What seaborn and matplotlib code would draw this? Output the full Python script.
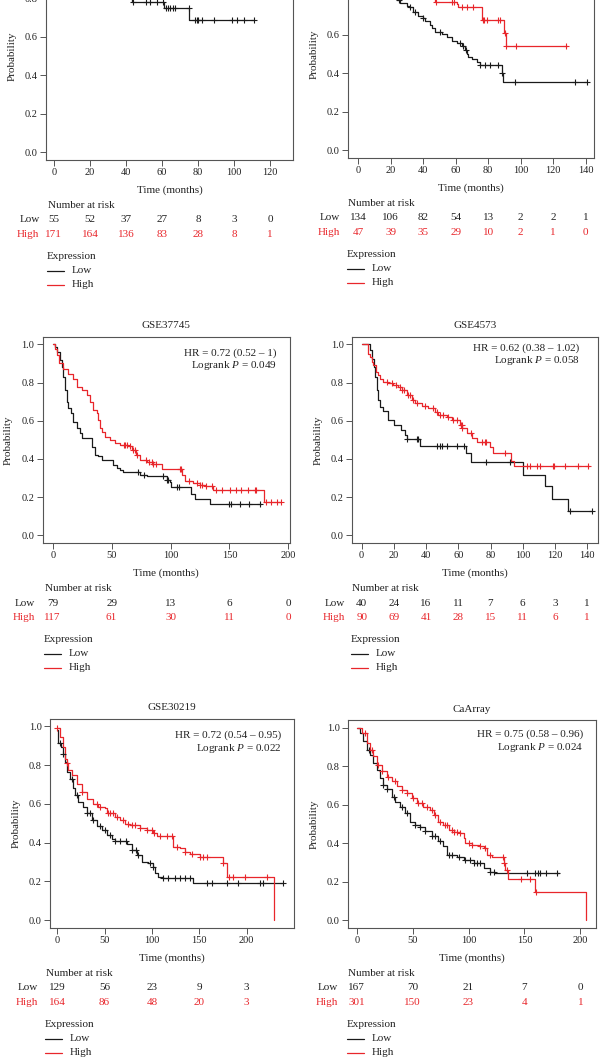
import matplotlib
matplotlib.use('Agg')

import numpy as np
import matplotlib.pyplot as plt
import matplotlib.transforms as mtransforms
import seaborn as sns

# -------------------------------
# Kaplan-Meier curves (time in months, survival)
# -------------------------------
# panel 1 (top-left, title cropped)
p1_low_t = [0, 5, 12, 20, 28, 35, 40, 43.5, 61.3, 75.2, 111.1]
p1_low_s = [1.0, 0.98, 0.96, 0.94, 0.91, 0.87, 0.82, 0.78, 0.75, 0.686, 0.686]
p1_low_c = [43.7, 50.9, 53.3, 57.4, 60.4, 62.0, 63.1, 64.4, 66.3, 67.2, 75.0, 78.5, 79.3,
            80.2, 82.2, 88.7, 98.7, 101.5, 105.7, 111.1]
p1_high_t = [0, 10, 25, 45, 60, 75, 90, 128]
p1_high_s = [1.0, 0.98, 0.96, 0.94, 0.92, 0.90, 0.88, 0.88]
p1_high_c = [30, 50, 70, 95, 110, 128]
p1_times = [0, 20, 40, 60, 80, 100, 120]
p1_risk_low = [55, 52, 37, 27, 8, 3, 0]
p1_risk_high = [171, 164, 136, 83, 28, 8, 1]

# panel 2 (top-right, title cropped)
p2_low_t = [0, 6, 12, 17, 20, 22, 24, 25.7, 29.8, 31.5, 33.9, 37, 39.6, 41, 44, 45.5, 47.2,
            51.3, 54.4, 57.5, 60.6, 63.7, 65.7, 66.8, 67.8, 69.8, 72.9, 75, 88.3, 89.2, 141]
p2_low_s = [1.0, 0.98, 0.95, 0.91, 0.86, 0.82, 0.78, 0.765, 0.75, 0.745, 0.72, 0.70, 0.687,
            0.67, 0.652, 0.635, 0.614, 0.603, 0.59, 0.57, 0.557, 0.54, 0.52, 0.50, 0.487,
            0.473, 0.46, 0.443, 0.40, 0.353, 0.353]
p2_low_c = [25.3, 31.8, 34.9, 40, 50.3, 62.6, 64.7, 66.1, 75.2, 78.2, 81.1, 86.2, 88.5,
            96.5, 133.5, 140.7]
p2_high_t = [0, 15, 30, 42, 47.5, 60.6, 61.6, 76.0, 89.7, 90.8, 128.3]
p2_high_s = [1.0, 0.97, 0.92, 0.86, 0.774, 0.762, 0.744, 0.678, 0.612, 0.543, 0.543]
p2_high_c = [48, 57.5, 58.9, 63.7, 67.1, 70.4, 76.6, 77.6, 79.1, 86.2, 87.3, 90.3, 90.9,
             97.1, 127.7]
p2_times = [0, 20, 40, 60, 80, 100, 120, 140]
p2_risk_low = [134, 106, 82, 54, 13, 2, 2, 1]
p2_risk_high = [47, 39, 35, 29, 10, 2, 1, 0]

# panel 3 GSE37745
p3_low_t = [0, 2, 4, 6.2, 7.6, 9, 10.5, 11.9, 13.3, 15.3, 17.5, 20.3, 23.2, 25.1, 33.6, 35.9,
            38.7, 41.5, 51.4, 54.2, 57, 60, 74, 79.7, 96.6, 99.4, 100.8, 117, 121, 133.7, 177]
p3_low_s = [1.0, 0.986, 0.96, 0.917, 0.882, 0.83, 0.76, 0.70, 0.665, 0.64, 0.595, 0.56,
            0.535, 0.509, 0.465, 0.42, 0.413, 0.396, 0.37, 0.352, 0.34, 0.33, 0.318, 0.309,
            0.292, 0.28, 0.253, 0.215, 0.191, 0.165, 0.165]
p3_low_c = [72.3, 77.4, 93.8, 96.8, 98, 105.9, 107.1, 149.7, 151.4, 158.8, 166.7, 175.7]
p3_high_t = [0, 2, 3.4, 5.6, 9, 13.3, 17.5, 20.3, 24.6, 28.8, 31.6, 34.5, 37.3, 38.7, 40.1,
             41.5, 44.4, 48.6, 52.8, 57, 64.1, 66.9, 70.6, 74, 79.7, 85.3, 92.9, 109.4, 112.1,
             119.2, 124.9, 129.1, 136.2, 179.4, 194]
p3_high_s = [1.0, 0.977, 0.943, 0.90, 0.873, 0.847, 0.82, 0.778, 0.76, 0.734, 0.70, 0.656,
             0.639, 0.604, 0.56, 0.543, 0.517, 0.50, 0.486, 0.474, 0.469, 0.448, 0.422, 0.396,
             0.382, 0.375, 0.347, 0.318, 0.283, 0.274, 0.266, 0.257, 0.236, 0.175, 0.175]
p3_high_c = [60.5, 61.3, 62.7, 65.5, 67.8, 69.8, 71.2, 79.1, 81.9, 83.9, 85.3, 88.1, 107.9,
             108.8, 115.3, 122.6, 124.9, 127.1, 130.5, 135.6, 138.4, 144.1, 150.3, 155.9,
             160.2, 165.8, 171.5, 172.9, 181.4, 185.6, 190.4, 194]
p3_times = [0, 50, 100, 150, 200]
p3_risk_low = [79, 29, 13, 6, 0]
p3_risk_high = [117, 61, 30, 11, 0]

# panel 4 GSE4573
p4_low_t = [0, 5.2, 6.2, 7.7, 8.3, 9.3, 10.3, 11.4, 13, 16.5, 20.3, 24.2, 26.9, 27.9, 36.2,
            64.5, 67.8, 99.9, 113.7, 117.9, 127.8, 142.7]
p4_low_s = [1.0, 0.969, 0.925, 0.882, 0.83, 0.76, 0.708, 0.674, 0.653, 0.604, 0.578, 0.552,
            0.526, 0.503, 0.469, 0.43, 0.382, 0.318, 0.257, 0.191, 0.127, 0.127]
p4_low_c = [28.2, 34.1, 35.2, 46.5, 48.6, 49.6, 52.7, 58.9, 63.5, 77.1, 92, 129.2, 142.7]
p4_high_t = [0, 4.1, 5.2, 6.2, 7.2, 8.9, 10.3, 11.4, 13.4, 16.5, 19.6, 22.7, 24.8, 27.9, 31,
             33.1, 37.2, 41.4, 45.5, 47.6, 52.7, 55.8, 61, 62.4, 65.1, 68.2, 71.3, 79.6, 81.7,
             93, 94.5, 141.2]
p4_high_s = [1.0, 0.951, 0.934, 0.908, 0.891, 0.856, 0.839, 0.821, 0.804, 0.795, 0.786,
             0.778, 0.76, 0.734, 0.708, 0.691, 0.679, 0.665, 0.648, 0.63, 0.622, 0.604, 0.578,
             0.56, 0.535, 0.509, 0.491, 0.465, 0.43, 0.387, 0.365, 0.365]
p4_high_c = [15.9, 18.6, 21.3, 23.8, 24.8, 26.3, 28.9, 30, 32, 34.1, 39.3, 44.5, 46.5, 48.6,
             50.7, 53.8, 56.9, 58.9, 61.6, 62, 62.4, 67.6, 74.4, 76.5, 77.1, 88.9, 102.4,
             104.4, 108.6, 110.6, 118.9, 119.3, 126.1, 134.4, 140.6]
p4_times = [0, 20, 40, 60, 80, 100, 120, 140]
p4_risk_low = [40, 24, 16, 11, 7, 6, 3, 1]
p4_risk_high = [90, 69, 41, 28, 15, 11, 6, 1]

# panel 5 GSE30219
p5_low_t = [0, 1, 3.5, 6.3, 8.1, 9.9, 13.4, 16.2, 18.7, 22.2, 27.5, 31, 36.3, 41.5, 46.8,
            52.1, 57.4, 60.9, 73.2, 78.5, 83.8, 89.1, 96.1, 100.7, 103.2, 106.7, 112, 143,
            238.7]
p5_low_s = [0.98, 0.914, 0.893, 0.859, 0.816, 0.765, 0.73, 0.679, 0.644, 0.61, 0.584, 0.55,
            0.515, 0.485, 0.464, 0.438, 0.416, 0.409, 0.392, 0.361, 0.335, 0.301, 0.292,
            0.275, 0.241, 0.223, 0.215, 0.192, 0.192]
p5_low_c = [2.8, 6.3, 15.1, 20.4, 31.7, 34.5, 38, 45.1, 50.4, 55.6, 60.9, 66.2, 72.5, 78.5,
            83.1, 85.6, 97.9, 100.7, 112, 117.3, 124.3, 129.6, 134.9, 140.1, 157.7, 163,
            178.9, 191.2, 214.1, 217.6, 238.7]
p5_high_t = [0, 2.8, 5.6, 8.1, 9.9, 11.6, 15.1, 20.4, 25.7, 31, 38, 43.3, 50.4, 52.1, 60.9,
             66.2, 71.5, 76.8, 87.3, 94.4, 101.4, 104.9, 122.5, 129.6, 134.9, 140.1, 150.7,
             175.4, 179, 228.5]
p5_high_s = [0.99, 0.945, 0.893, 0.833, 0.808, 0.773, 0.747, 0.704, 0.661, 0.627, 0.601,
             0.584, 0.576, 0.55, 0.533, 0.515, 0.495, 0.49, 0.473, 0.464, 0.45, 0.433, 0.378,
             0.37, 0.352, 0.34, 0.326, 0.292, 0.223, 0.0]
p5_high_c = [0, 9.9, 25.7, 41.5, 45.1, 53.9, 55.6, 59.2, 62.7, 69.7, 75, 78.5, 82, 87.3,
             94.4, 99.6, 102.1, 108.5, 115.5, 120.8, 126.1, 134.9, 141.9, 150.7, 154.2, 157.7,
             175.4, 181.7, 185.9, 198.2, 221.1]
p5_times = [0, 50, 100, 150, 200]
p5_risk_low = [129, 56, 23, 9, 3]
p5_risk_high = [164, 86, 48, 20, 3]

# panel 6 CaArray
p6_low_t = [0, 3, 6, 9, 11.9, 14.9, 17.9, 20.9, 23.9, 26.9, 31.3, 34.3, 38.8, 43.3, 47.8,
            52.2, 56.7, 61.2, 67.2, 73.1, 77.6, 80.6, 89.6, 95.5, 104.5, 113.4, 119.4, 123.9,
            180.6]
p6_low_s = [1.0, 0.974, 0.93, 0.887, 0.861, 0.817, 0.783, 0.739, 0.704, 0.682, 0.643, 0.617,
            0.591, 0.557, 0.513, 0.496, 0.483, 0.461, 0.435, 0.409, 0.383, 0.339, 0.33, 0.31,
            0.296, 0.27, 0.252, 0.243, 0.243]
p6_low_c = [11.3, 23.9, 26.9, 33.4, 40.3, 44.8, 52.2, 56.7, 61.2, 67.2, 70.1, 74.6, 82.1,
            85.1, 91.9, 97, 101.5, 104.5, 107.5, 110.4, 119.4, 122.4, 152.2, 159.7, 161.8,
            163.6, 169.6, 179.1]
p6_high_t = [0, 4.5, 9, 11.9, 14.9, 18.5, 22.4, 26.9, 31.3, 35.8, 40.3, 44.8, 49.3, 53.7,
             59.7, 65.7, 68.7, 73.1, 77.6, 82.1, 86.6, 92.5, 95.5, 97, 103, 109, 113.4, 116.4,
             120.9, 131.3, 132.8, 134.9, 159.7, 205]
p6_high_s = [1.0, 0.974, 0.922, 0.887, 0.852, 0.809, 0.774, 0.744, 0.722, 0.70, 0.678,
             0.661, 0.635, 0.609, 0.591, 0.574, 0.548, 0.513, 0.496, 0.47, 0.456, 0.452, 0.426,
             0.40, 0.391, 0.383, 0.374, 0.339, 0.33, 0.296, 0.261, 0.214, 0.148, 0.0]
p6_high_c = [7.5, 13.4, 19.4, 22.4, 28.4, 34.3, 40.3, 44.8, 50.7, 55.2, 58.2, 62.7, 67.2,
             70.1, 74.6, 79.1, 80.6, 85.1, 86.6, 89.6, 92.5, 100, 103, 110.4, 114.9, 119.4,
             130.7, 131.9, 134.3, 147.2, 154.6, 160.6]
p6_times = [0, 50, 100, 150, 200]
p6_risk_low = [167, 70, 21, 7, 0]
p6_risk_high = [301, 150, 23, 4, 1]

titles = [None, None, "GSE37745", "GSE4573", "GSE30219", "CaArray"]
hr_text = [None, None, "HR = 0.72 (0.52 – 1)", "HR = 0.62 (0.38 – 1.02)",
           "HR = 0.72 (0.54 – 0.95)", "HR = 0.75 (0.58 – 0.96)"]
p_text = [None, None, "0.049", "0.058", "0.022", "0.024"]

# -------------------------------
# layout (pixels on the 600 x 1059 canvas)
# -------------------------------
W, H = 600, 1059
# left, right, top, bottom of each axes box
boxes = [(46, 293, -47.5, 159.7), (348, 594, -49.5, 157.7),
         (42.7, 289.5, 336.7, 543), (352, 598, 336.7, 543),
         (50, 294, 718.5, 927.8), (348, 596, 720.3, 927.7)]
xlims = [(-4.4, 132.8), (-6.3, 145.1), (-8.5, 201), (-6, 146.7), (-7.7, 250), (-7.8, 214)]
xticks = [p1_times, p2_times, p3_times, p4_times, p5_times, p6_times]
low_label_x = [39.5, 340, 35, 345, 37.7, 337.7]
nar_x = [48, 348, 45, 352, 46, 348]
hr_dy = [16, 16, 16, 11, 17, 14]
hr_dx = [12.5, 12.5, 12.8, 18.7, 13, 12.7]

panels = [
    (p1_low_t, p1_low_s, p1_low_c, p1_high_t, p1_high_s, p1_high_c, p1_risk_low, p1_risk_high),
    (p2_low_t, p2_low_s, p2_low_c, p2_high_t, p2_high_s, p2_high_c, p2_risk_low, p2_risk_high),
    (p3_low_t, p3_low_s, p3_low_c, p3_high_t, p3_high_s, p3_high_c, p3_risk_low, p3_risk_high),
    (p4_low_t, p4_low_s, p4_low_c, p4_high_t, p4_high_s, p4_high_c, p4_risk_low, p4_risk_high),
    (p5_low_t, p5_low_s, p5_low_c, p5_high_t, p5_high_s, p5_high_c, p5_risk_low, p5_risk_high),
    (p6_low_t, p6_low_s, p6_low_c, p6_high_t, p6_high_s, p6_high_c, p6_risk_low, p6_risk_high),
]

BLACK = "#1a1a1a"
RED = "#e8262b"
FS = 7.5

sns.set_theme(style="white")
plt.rcParams['font.family'] = ['Liberation Serif', 'DejaVu Serif']
plt.rcParams['mathtext.fontset'] = 'custom'
plt.rcParams['mathtext.rm'] = 'Liberation Serif'
plt.rcParams['mathtext.it'] = 'Liberation Serif:italic'

fig = plt.figure(figsize=(W / 100, H / 100), dpi=100)


def fy(px):
    return 1 - px / H


def surv_at(times, surv, c):
    idx = np.searchsorted(times, c, side='right') - 1
    return np.asarray(surv)[np.clip(idx, 0, len(surv) - 1)]


for i, (lt, ls, lc, ht, hs, hc, rl, rh) in enumerate(panels):
    left, right, top, bottom = boxes[i]
    ax = fig.add_axes([left / W, fy(bottom), (right - left) / W, (bottom - top) / H])

    for t, s, c, col in [(lt, ls, lc, BLACK), (ht, hs, hc, RED)]:
        sns.lineplot(x=t, y=s, ax=ax, color=col, lw=0.9, drawstyle='steps-post',
                     estimator=None, sort=False, legend=False)
        sns.scatterplot(x=c, y=surv_at(t, s, c), ax=ax, color=col, marker='+',
                        s=18, linewidth=0.8, legend=False, zorder=3)

    ax.set_xlim(*xlims[i])
    ax.set_ylim(-0.04, 1.04)
    ax.set_xticks(xticks[i])
    ax.set_yticks([0, 0.2, 0.4, 0.6, 0.8, 1.0])
    ax.set_yticklabels(["0.0", "0.2", "0.4", "0.6", "0.8", "1.0"])
    ax.tick_params(bottom=True, left=True, direction='out', length=4, width=0.7,
                   color='#555555', labelsize=FS, pad=2, labelcolor='#222222')
    for sp in ax.spines.values():
        sp.set_color('#555555')
        sp.set_linewidth(0.8)
    ax.set_xlabel("Time (months)", fontsize=FS + 0.5, labelpad=6, color='#222222')
    ax.set_ylabel("Probability", fontsize=FS + 0.5, labelpad=6, color='#222222')

    if titles[i]:
        fig.text((left + right) / 2 / W, fy(top - 11), titles[i], ha='center', va='center',
                 fontsize=FS + 0.5, color='#222222')
        fig.text((right - hr_dx[i]) / W, fy(top + hr_dy[i]), hr_text[i], ha='right',
                 va='center', fontsize=FS + 0.5, color='#222222')
        fig.text((right - hr_dx[i]) / W, fy(top + hr_dy[i] + 13),
                 "Logrank $P$ = " + p_text[i], ha='right', va='center',
                 fontsize=FS + 0.5, color='#222222')

    # number at risk table
    tr = mtransforms.blended_transform_factory(ax.transData, fig.transFigure)
    fig.text(nar_x[i] / W, fy(bottom + 45.5), "Number at risk", ha='left', va='center',
             fontsize=FS + 0.5, color='#222222')
    fig.text(low_label_x[i] / W, fy(bottom + 60), "Low", ha='right', va='center',
             fontsize=FS + 0.5, color='#222222')
    fig.text(low_label_x[i] / W, fy(bottom + 75), "High", ha='right', va='center',
             fontsize=FS + 0.5, color=RED)
    for xt, a, b in zip(xticks[i], rl, rh):
        ax.text(xt, fy(bottom + 60), str(a), transform=tr, ha='center', va='center',
                fontsize=FS + 0.5, color='#222222', clip_on=False)
        ax.text(xt, fy(bottom + 75), str(b), transform=tr, ha='center', va='center',
                fontsize=FS + 0.5, color=RED, clip_on=False)

    # expression legend
    fig.text((nar_x[i] - 1) / W, fy(bottom + 97), "Expression", ha='left', va='center',
             fontsize=FS + 0.5, color='#222222')
    for k, (lab, col) in enumerate([("Low", BLACK), ("High", RED)]):
        yy = fy(bottom + 111 + 14 * k)
        fig.add_artist(plt.Line2D([(nar_x[i] - 1) / W, (nar_x[i] + 16) / W], [yy, yy],
                                  color=col, lw=0.9, transform=fig.transFigure))
        fig.text((nar_x[i] + 24) / W, yy, lab, ha='left', va='center',
                 fontsize=FS + 0.5, color='#222222')

fig.savefig("out.png", dpi=100)
